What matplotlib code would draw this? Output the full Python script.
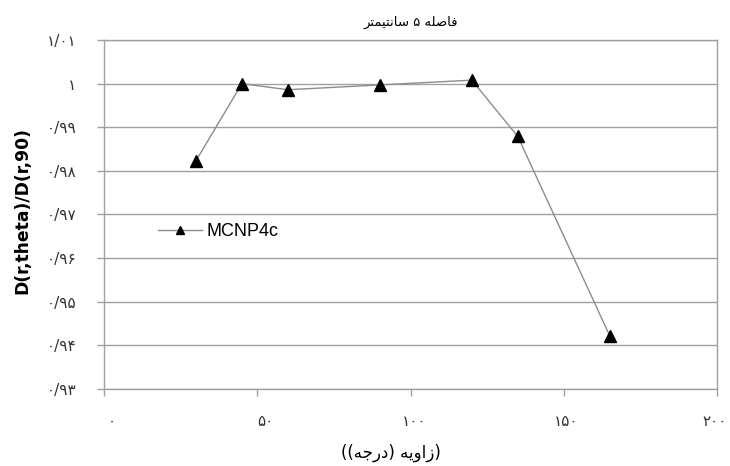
import numpy as np
import matplotlib
matplotlib.use('Agg')
import matplotlib.pyplot as plt
from matplotlib.transforms import ScaledTranslation

# data
angles = [30, 45, 60, 90, 120, 135, 165]
ratio = [0.9823, 1.0000, 0.9986, 0.9997, 1.0008, 0.9879, 0.9422]

xticks = [0, 50, 100, 150, 200]
xtick_labels = ['۰', '۵۰', '۱۰۰', '۱۵۰', '۲۰۰']
yticks = [0.93, 0.94, 0.95, 0.96, 0.97, 0.98, 0.99, 1.00, 1.01]
ytick_labels = ['۰/۹۳', '۰/۹۴', '۰/۹۵', '۰/۹۶', '۰/۹۷', '۰/۹۸', '۰/۹۹', '۱', '۱/۰۱']

series_name = 'MCNP4c'
# Persian text written with presentation forms in visual (left-to-right) order,
# since matplotlib does no shaping / bidi
title_text = ('\uFEAE\uFE98\uFEE4\uFBFF\uFE98\uFEE7\uFE8E\uFEB3'   # سانتیمتر
              ' ۵ '
              '\uFEEA\uFEE0\uFEBB\uFE8E\uFED3')                  # فاصله
xlabel_text = ('((' + '\uFEEA\uFE9F\uFEAD\uFEA9' + ') '          # درجه
               + '\uFEEA\uFBFE\uFEED\uFE8D\uFEAF' + ')')         # زاویه
ylabel_text = 'D(r,theta)/D(r,90)'

grid_col = '#a0a0a0'

fig = plt.figure(figsize=(7.3, 4.66), dpi=100)
ax = fig.add_axes([104 / 730, 1 - 389 / 466, 613 / 730, 349 / 466])

ax.plot(angles, ratio, color='#8c8c8c', lw=1.0, marker='^', ms=8,
        mfc='black', mec='black', label=series_name, zorder=3)

ax.set_xlim(0, 200)
ax.set_ylim(0.93, 1.01)
ax.set_xticks(xticks)
ax.set_xticklabels(xtick_labels, family=['DejaVu Sans'], fontsize=11, color='#333333')
ax.set_yticks(yticks)
ax.set_yticklabels(ytick_labels, family=['DejaVu Sans'], fontsize=11, color='#333333')

ax.yaxis.grid(True, color=grid_col, lw=1.0)
ax.set_axisbelow(True)
for s in ax.spines.values():
    s.set_color(grid_col)
    s.set_linewidth(1.0)
ax.tick_params(axis='x', length=5, width=1, color=grid_col, pad=13)
ax.tick_params(axis='y', length=5, width=1, color=grid_col, pad=15)

# x tick labels drift a little off their ticks in the reference
for lab, dx in zip(ax.get_xticklabels(), [8, 8, 4, 2, -2]):
    lab.set_transform(lab.get_transform()
                      + ScaledTranslation(dx / 100, 0, fig.dpi_scale_trans))

ax.set_title(title_text, family=['DejaVu Sans'], fontsize=9.5, pad=10)
fig.text(391 / 730, 1 - 453 / 466, xlabel_text, family=['DejaVu Sans'],
         fontsize=12, ha='center', va='center')
fig.text(22 / 730, 1 - 210 / 466, ylabel_text, rotation=90, fontsize=12.3,
         fontweight='bold', ha='center', va='center')

ax.legend(loc='center left', bbox_to_anchor=(0.062, 0.45), frameon=False,
          prop={'family': 'Liberation Sans', 'size': 13}, handlelength=2.4,
          handletextpad=0.25, markerscale=0.75)

fig.savefig('out.png', dpi=100)
